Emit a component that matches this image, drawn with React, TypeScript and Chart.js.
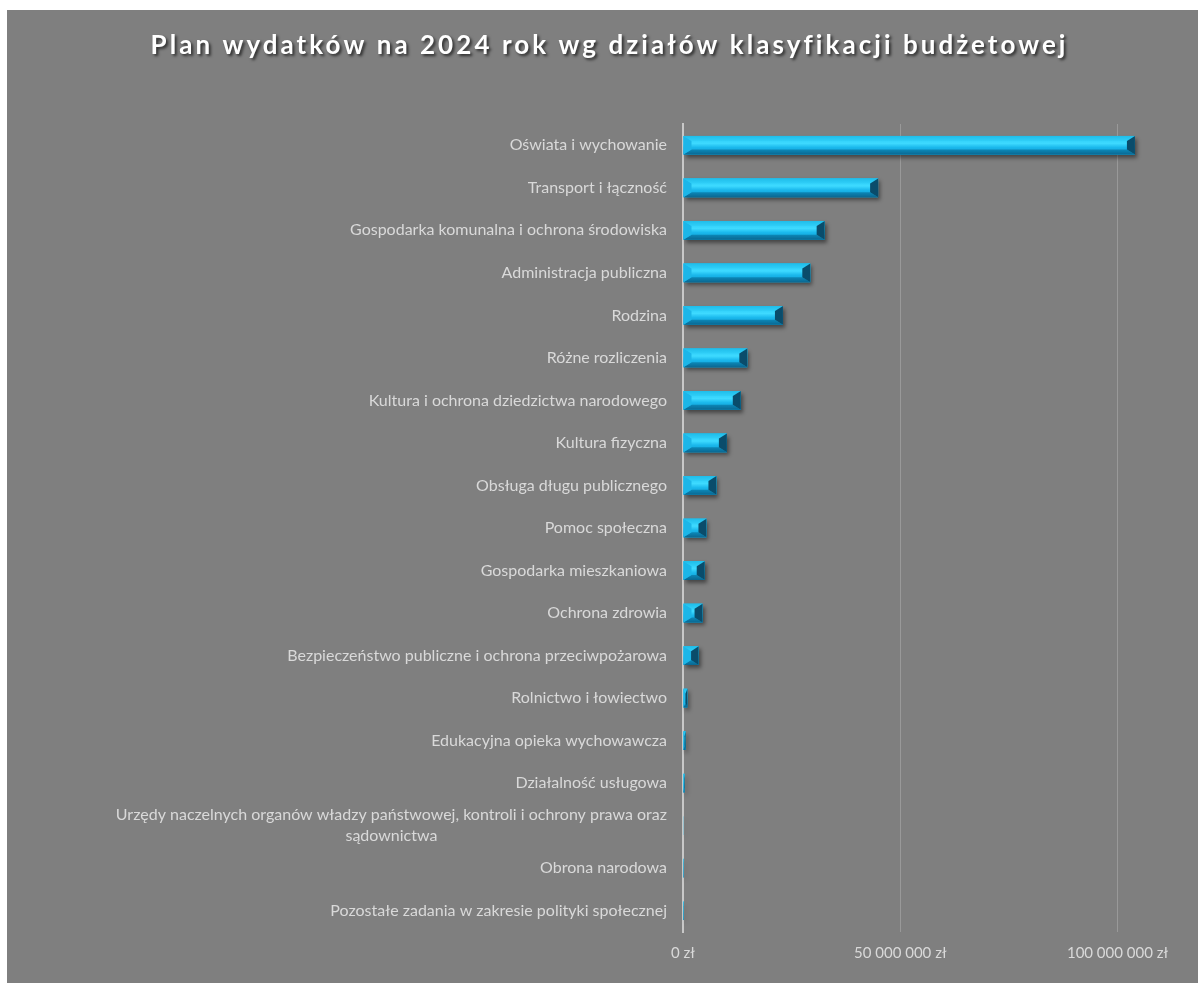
import React, { useEffect, useRef } from "react";
import { Chart, registerables } from "chart.js";

Chart.register(...registerables);

const chartTitle = "Plan wydatków na 2024 rok wg działów klasyfikacji budżetowej";

const categories: (string | string[])[] = [
  "Oświata i wychowanie",
  "Transport i łączność",
  "Gospodarka komunalna i ochrona środowiska",
  "Administracja publiczna",
  "Rodzina",
  "Różne rozliczenia",
  "Kultura i ochrona dziedzictwa narodowego",
  "Kultura fizyczna",
  "Obsługa długu publicznego",
  "Pomoc społeczna",
  "Gospodarka mieszkaniowa",
  "Ochrona zdrowia",
  "Bezpieczeństwo publiczne i ochrona przeciwpożarowa",
  "Rolnictwo i łowiectwo",
  "Edukacyjna opieka wychowawcza",
  "Działalność usługowa",
  ["Urzędy naczelnych organów władzy państwowej, kontroli i ochrony prawa oraz", "sądownictwa"],
  "Obrona narodowa",
  "Pozostałe zadania w zakresie polityki społecznej",
];

const values: number[] = [
  104000000, 44900000, 32600000, 29300000, 23000000, 14800000, 13300000, 10100000,
  7700000, 5400000, 5000000, 4500000, 3600000, 1000000, 600000, 350000, 60000,
  30000, 15000,
];

const xTickValues: number[] = [0, 50000000, 100000000];
const xMax = 110000000;

const LABEL_FONT = "16px Lato";
const LABEL_COLOR = "#d9d9d9";

function fmt(v: number): string {
  const s = Math.round(v).toString().replace(/\B(?=(\d{3})+(?!\d))/g, " ");
  return s + " zł";
}

const bevelPlugin = {
  id: "bevelBars",
  beforeDatasetsDraw(chart: any) {
    const ctx = chart.ctx;
    ctx.save();
    ctx.shadowColor = "rgba(0,0,0,0.45)";
    ctx.shadowOffsetX = 2;
    ctx.shadowOffsetY = 3;
    ctx.shadowBlur = 4;
  },
  afterDatasetsDraw(chart: any) {
    const ctx = chart.ctx;
    ctx.restore();
    const meta = chart.getDatasetMeta(0);
    meta.data.forEach((bar: any) => {
      const p = bar.getProps(["x", "y", "base", "height"], true);
      const x0 = Math.min(p.base, p.x);
      const x1 = Math.max(p.base, p.x);
      const yt = p.y - p.height / 2;
      const yb = p.y + p.height / 2;
      const w = x1 - x0;
      if (w < 0.3) return;
      const bw = Math.min(8, w / 2);
      const bh = Math.min(5, p.height / 2);
      ctx.save();
      const g = ctx.createLinearGradient(0, yt, 0, yb);
      g.addColorStop(0, "#22c6f4");
      g.addColorStop(0.4, "#3edaff");
      g.addColorStop(0.62, "#1ab8ec");
      g.addColorStop(1, "#0e98cc");
      ctx.fillStyle = g;
      ctx.fillRect(x0, yt, w, yb - yt);
      const poly = (pts: number[][], color: any) => {
        ctx.beginPath();
        ctx.moveTo(pts[0][0], pts[0][1]);
        for (let i = 1; i < pts.length; i++) ctx.lineTo(pts[i][0], pts[i][1]);
        ctx.closePath();
        ctx.fillStyle = color;
        ctx.fill();
      };
      const gt = ctx.createLinearGradient(0, yt, 0, yt + bh);
      gt.addColorStop(0, "#1fbdea");
      gt.addColorStop(1, "#30cff8");
      poly([[x0, yt], [x1, yt], [x1 - bw, yt + bh], [x0 + bw, yt + bh]], gt);
      const gb = ctx.createLinearGradient(0, yb - bh, 0, yb);
      gb.addColorStop(0, "#0c88b8");
      gb.addColorStop(1, "#0a6791");
      poly([[x0, yb], [x1, yb], [x1 - bw, yb - bh], [x0 + bw, yb - bh]], gb);
      poly([[x0, yt], [x0 + bw, yt + bh], [x0 + bw, yb - bh], [x0, yb]], "#1cb6e8");
      poly([[x1, yt], [x1 - bw, yt + bh], [x1 - bw, yb - bh], [x1, yb]], "#0a4c6b");
      ctx.restore();
    });
  },
};

const labelsPlugin = {
  id: "yLabels",
  afterDraw(chart: any) {
    const ctx = chart.ctx;
    const yScale = chart.scales.y;
    const xr = chart.chartArea.left - 16;
    const lineH = 21;
    ctx.save();
    ctx.font = LABEL_FONT;
    ctx.fillStyle = LABEL_COLOR;
    ctx.textBaseline = "middle";
    (chart.data.labels as any[]).forEach((lab: any, i: number) => {
      const yc = yScale.getPixelForValue(i);
      if (Array.isArray(lab)) {
        const widest = Math.max(...lab.map((l: string) => ctx.measureText(l).width));
        const cx = xr - widest / 2;
        ctx.textAlign = "center";
        lab.forEach((l: string, k: number) => {
          ctx.fillText(l, cx, yc + (k - (lab.length - 1) / 2) * lineH);
        });
      } else {
        ctx.textAlign = "right";
        ctx.fillText(lab, xr, yc);
      }
    });
    ctx.restore();
  },
};

const titlePlugin = {
  id: "spacedTitle",
  afterDraw(chart: any) {
    const ctx = chart.ctx;
    ctx.save();
    ctx.font = "bold 26px Lato";
    const spacing = 3.05;
    (ctx as any).letterSpacing = spacing + "px";
    ctx.textAlign = "left";
    ctx.textBaseline = "middle";
    const w = ctx.measureText(chartTitle).width - spacing;
    const cx = 601;
    ctx.shadowColor = "rgba(0,0,0,0.65)";
    ctx.shadowOffsetX = 2;
    ctx.shadowOffsetY = 2;
    ctx.shadowBlur = 3;
    ctx.fillStyle = "#ffffff";
    ctx.fillText(chartTitle, cx - w / 2, 36);
    ctx.restore();
  },
};

export default function App() {
  const ref = useRef<HTMLCanvasElement | null>(null);

  useEffect(() => {
    if (!ref.current) return;
    const chart = new Chart(ref.current, {
      type: "bar",
      data: {
        labels: categories as any,
        datasets: [
          {
            data: values,
            backgroundColor: "#16b4e6",
            borderWidth: 0,
            categoryPercentage: 0.44,
            barPercentage: 1,
          },
        ],
      },
      options: {
        indexAxis: "y",
        animation: false,
        responsive: false,
        layout: { padding: { top: 114, right: 37, bottom: 0, left: 0 } },
        plugins: {
          legend: { display: false },
          title: { display: false },
          tooltip: { enabled: false },
        },
        scales: {
          x: {
            min: 0,
            max: xMax,
            afterBuildTicks: (axis: any) => {
              axis.ticks = xTickValues.map((v) => ({ value: v }));
            },
            afterFit: (scale: any) => {
              scale.height = 51;
            },
            grid: {
              color: "#999999",
              lineWidth: 1,
              drawTicks: false,
            },
            border: { display: false },
            ticks: {
              padding: 12,
              color: LABEL_COLOR,
              font: { family: "Lato", size: 15 },
              callback: (v: any) => fmt(Number(v)),
              maxRotation: 0,
            },
          },
          y: {
            afterFit: (scale: any) => {
              scale.width = 676;
            },
            grid: { display: false, drawTicks: false },
            border: { display: true, color: "#c8c8c8", width: 2 },
            ticks: { display: false },
          },
        },
      },
      plugins: [bevelPlugin, labelsPlugin, titlePlugin],
    });
    return () => chart.destroy();
  }, []);

  return (
    <div
      style={{
        position: "absolute",
        left: 7,
        top: 10,
        width: 1191,
        height: 973,
        background: "#7f7f7f",
      }}
    >
      <canvas ref={ref} width={1191} height={973} style={{ display: "block" }} />
    </div>
  );
}
